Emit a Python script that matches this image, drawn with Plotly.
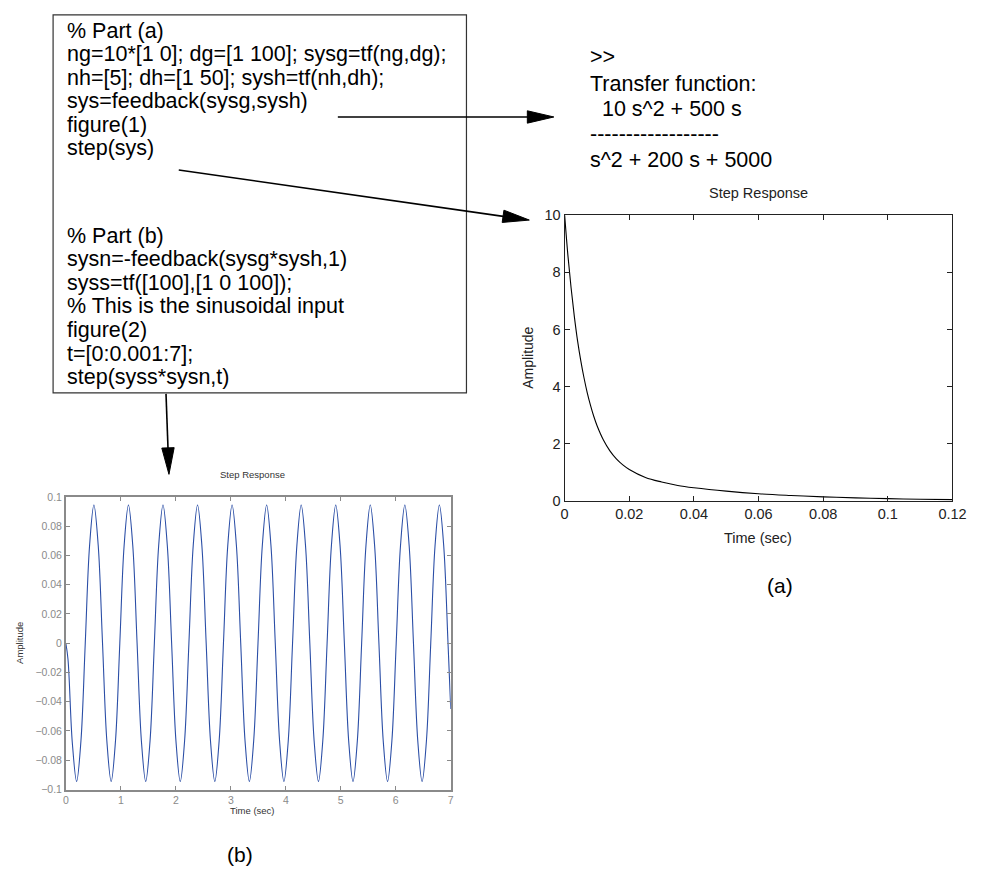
import plotly.graph_objects as go

W, H = 993, 879

# ---- data: panel (a) step response ----
t_a = [0, 0.001, 0.002, 0.003, 0.004, 0.005, 0.006, 0.007, 0.008, 0.009, 0.010,
       0.012, 0.014, 0.016, 0.018, 0.020, 0.025, 0.030, 0.035, 0.040, 0.050,
       0.060, 0.070, 0.080, 0.090, 0.100, 0.110, 0.120]
y_a = [10.0, 8.6, 7.45, 6.45, 5.6, 4.9, 4.3, 3.78, 3.34, 2.96, 2.64,
       2.13, 1.75, 1.47, 1.26, 1.1, 0.82, 0.66, 0.54, 0.46, 0.34,
       0.25, 0.19, 0.14, 0.105, 0.078, 0.058, 0.043]
xticks_a = [0, 0.02, 0.04, 0.06, 0.08, 0.1, 0.12]
xlabels_a = ["0", "0.02", "0.04", "0.06", "0.08", "0.1", "0.12"]
yticks_a = [0, 2, 4, 6, 8, 10]
ylabels_a = ["0", "2", "4", "6", "8", "10"]

# ---- data: panel (b) sinusoidal response ----
t_b = [0.0, 0.0387, 0.1173, 0.1958, 0.2743, 0.3529, 0.4314, 0.5100, 0.5885, 0.6670,
       0.7456, 0.8241, 0.9027, 0.9812, 1.0597, 1.1383, 1.2168, 1.2954, 1.3739, 1.4524,
       1.5310, 1.6095, 1.6881, 1.7666, 1.8451, 1.9237, 2.0022, 2.0808, 2.1593, 2.2378,
       2.3164, 2.3949, 2.4735, 2.5520, 2.6305, 2.7091, 2.7876, 2.8662, 2.9447, 3.0232,
       3.1018, 3.1803, 3.2589, 3.3374, 3.4159, 3.4945, 3.5730, 3.6516, 3.7301, 3.8086,
       3.8872, 3.9657, 4.0443, 4.1228, 4.2013, 4.2799, 4.3584, 4.4370, 4.5155, 4.5940,
       4.6726, 4.7511, 4.8297, 4.9082, 4.9867, 5.0653, 5.1438, 5.2224, 5.3009, 5.3794,
       5.4580, 5.5365, 5.6151, 5.6936, 5.7721, 5.8507, 5.9292, 6.0078, 6.0863, 6.1648,
       6.2434, 6.3219, 6.4005, 6.4790, 6.5575, 6.6361, 6.7146, 6.7932, 6.8717, 6.9502,
       7.0]
y_b = [0.0, -0.011, -0.068, -0.0945,
       -0.0668, 0.0, 0.0668, 0.0945, 0.0668, 0.0, -0.0668, -0.0945,
       -0.0668, 0.0, 0.0668, 0.0945, 0.0668, 0.0, -0.0668, -0.0945,
       -0.0668, 0.0, 0.0668, 0.0945, 0.0668, 0.0, -0.0668, -0.0945,
       -0.0668, 0.0, 0.0668, 0.0945, 0.0668, 0.0, -0.0668, -0.0945,
       -0.0668, 0.0, 0.0668, 0.0945, 0.0668, 0.0, -0.0668, -0.0945,
       -0.0668, 0.0, 0.0668, 0.0945, 0.0668, 0.0, -0.0668, -0.0945,
       -0.0668, 0.0, 0.0668, 0.0945, 0.0668, 0.0, -0.0668, -0.0945,
       -0.0668, 0.0, 0.0668, 0.0945, 0.0668, 0.0, -0.0668, -0.0945,
       -0.0668, 0.0, 0.0668, 0.0945, 0.0668, 0.0, -0.0668, -0.0945,
       -0.0668, 0.0, 0.0668, 0.0945, 0.0668, 0.0, -0.0668, -0.0945,
       -0.0668, 0.0, 0.0668, 0.0945, 0.0668, 0.0,
       -0.045]
xticks_b = [0, 1, 2, 3, 4, 5, 6, 7]
xlabels_b = ["0", "1", "2", "3", "4", "5", "6", "7"]
yticks_b = [-0.1, -0.08, -0.06, -0.04, -0.02, 0, 0.02, 0.04, 0.06, 0.08, 0.1]
ylabels_b = ["\u22120.1", "\u22120.08", "\u22120.06", "\u22120.04", "\u22120.02", "0",
             "0.02", "0.04", "0.06", "0.08", "0.1"]

code_a = ["% Part (a)",
          "ng=10*[1 0]; dg=[1 100]; sysg=tf(ng,dg);",
          "nh=[5]; dh=[1 50]; sysh=tf(nh,dh);",
          "sys=feedback(sysg,sysh)",
          "figure(1)",
          "step(sys)"]
code_b = ["% Part (b)",
          "sysn=-feedback(sysg*sysh,1)",
          "syss=tf([100],[1 0 100]);",
          "% This is the sinusoidal input",
          "figure(2)",
          "t=[0:0.001:7];",
          "step(syss*sysn,t)"]
tf_lines = [">>", "Transfer function:", "  10 s^2 + 500 s", "-" * 18, "s^2 + 200 s + 5000"]

FONT = "Liberation Sans, Arial, Helvetica, sans-serif"


def px(x):
    return x / W


def py(y):
    return 1 - y / H


fig = go.Figure()
fig.add_trace(go.Scatter(x=t_a, y=y_a, mode="lines", line=dict(color="black", width=1.1, shape="spline"),
                         xaxis="x", yaxis="y", showlegend=False, hoverinfo="skip"))
fig.add_trace(go.Scatter(x=t_b, y=y_b, mode="lines", line=dict(color="#2b4ea6", width=1.1, shape="spline"),
                         xaxis="x2", yaxis="y2", showlegend=False, hoverinfo="skip"))

ax_a = dict(showline=True, mirror="ticks", linecolor="#222", linewidth=1.3, ticks="inside",
            ticklen=5, tickcolor="#222", showgrid=False, zeroline=False,
            tickfont=dict(family=FONT, size=14.5, color="#222"))
ax_b = dict(showline=True, mirror="ticks", linecolor="#8a8a8a", linewidth=1.6, ticks="inside",
            ticklen=4, tickcolor="#8a8a8a", showgrid=False, zeroline=False,
            tickfont=dict(family=FONT, size=10.5, color="#8a8a8a"))

fig.update_layout(
    width=W, height=H, margin=dict(l=0, r=0, t=0, b=0),
    paper_bgcolor="white", plot_bgcolor="white",
    xaxis=dict(domain=[px(571), px(966)], range=[0, 0.12], tickvals=xticks_a, ticktext=xlabels_a,
               anchor="y", **ax_a),
    yaxis=dict(domain=[py(502), py(211)], range=[0, 10], tickvals=yticks_a, ticktext=ylabels_a,
               anchor="x", **ax_a),
    xaxis2=dict(domain=[px(63), px(455)], range=[0, 7], tickvals=xticks_b, ticktext=xlabels_b,
                anchor="y2", **ax_b),
    yaxis2=dict(domain=[py(796), py(498)], range=[-0.1, 0.1], tickvals=yticks_b, ticktext=ylabels_b,
                anchor="x2", **ax_b),
)

ann = []


def text(x, y, s, size, color="black", xanchor="left", angle=0):
    ann.append(dict(x=px(x), y=py(y), xref="paper", yref="paper", text=s, showarrow=False,
                    xanchor=xanchor, yanchor="middle", textangle=angle,
                    font=dict(family=FONT, size=size, color=color)))


# code listing
for i, s in enumerate(code_a):
    text(62, 23 + 24 * i, s, 21.5)
for i, s in enumerate(code_b):
    text(62, 232 + 24 * i, s, 21.5)

# transfer function output
tf_y = [50, 77, 103, 128, 155]
for s, y in zip(tf_lines, tf_y):
    text(595, y, s.replace(" ", "&nbsp;") if s.startswith(" ") else s, 21.5)

# panel (a) labels
text(768, 188, "Step Response", 14.5, "#222", "center")
text(533, 356, "Amplitude", 14, "#222", "center", -90)
text(768, 540, "Time (sec)", 14.5, "#222", "center")
text(790, 588, "(a)", 21, "black", "center")

# panel (b) labels
text(253, 475, "Step Response", 9.5, "#333", "center")
text(15, 647, "Amplitude", 9.5, "#333", "center", -90)
text(253, 817, "Time (sec)", 9.5, "#333", "center")
text(240, 862, "(b)", 21, "black", "center")

fig.update_layout(annotations=ann)

shapes = []
# code box
shapes.append(dict(type="rect", xref="paper", yref="paper", x0=px(50), y0=py(7), x1=px(471), y1=py(392),
                   line=dict(color="#333", width=1.2), fillcolor="rgba(0,0,0,0)"))


def arrow(x0, y0, x1, y1, head_len=27, head_half=6.3):
    dx, dy = x1 - x0, y1 - y0
    L = (dx * dx + dy * dy) ** 0.5
    ux, uy = dx / L, dy / L
    bx, by = x1 - head_len * ux, y1 - head_len * uy
    nx, ny = -uy * head_half, ux * head_half
    shapes.append(dict(type="line", xref="paper", yref="paper", x0=px(x0), y0=py(y0), x1=px(bx + 2 * ux),
                       y1=py(by + 2 * uy), line=dict(color="black", width=1.6)))
    path = "M {},{} L {},{} L {},{} Z".format(px(x1), py(y1), px(bx + nx), py(by + ny), px(bx - nx), py(by - ny))
    shapes.append(dict(type="path", xref="paper", yref="paper", path=path, fillcolor="black",
                       line=dict(color="black", width=1)))


arrow(340, 111, 560, 111)
arrow(178, 165, 535, 216)
arrow(165, 393, 168, 475)

fig.update_layout(shapes=shapes)

fig.write_html("out.html", config={"displayModeBar": False},
               post_script="document.body.style.margin='0';document.body.style.overflow='hidden';")
